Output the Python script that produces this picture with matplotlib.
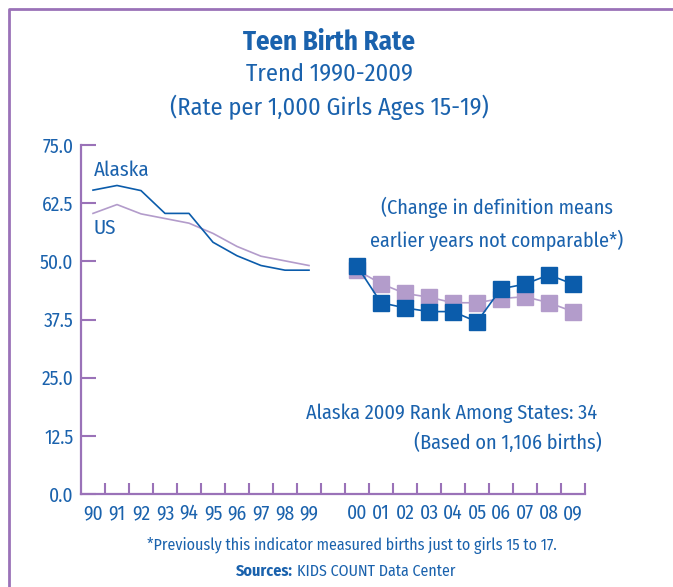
import matplotlib
matplotlib.use("Agg")
import matplotlib.pyplot as plt
from matplotlib.lines import Line2D

# Datos
anios_90 = ["90", "91", "92", "93", "94", "95", "96", "97", "98", "99"]
anios_00 = ["00", "01", "02", "03", "04", "05", "06", "07", "08", "09"]
alaska_90 = [65.3, 66.3, 65.2, 60.3, 60.3, 54.1, 51.2, 49.1, 48.1, 48.1]
us_90 = [60.3, 62.2, 60.2, 59.2, 58.2, 56.0, 53.2, 51.1, 50.1, 49.1]
alaska_00 = [49.0, 41.1, 40.0, 39.2, 39.2, 37.0, 44.1, 45.1, 47.1, 45.1]
us_00 = [48.1, 45.2, 43.1, 42.3, 41.1, 41.1, 42.0, 42.4, 41.1, 39.2]
y_ticks = [0.0, 12.5, 25.0, 37.5, 50.0, 62.5, 75.0]

AZUL = "#0b5cab"
AZUL_TEXTO = "#1a62ad"
LILA = "#b39ccb"
MORADO = "#9a72b8"

# fuente estrecha parecida a la del original, con respaldo
plt.rcParams['font.family'] = ['Fira Sans Condensed', 'Roboto Condensed', 'Roboto', 'DejaVu Sans']

fig = plt.figure(figsize=(6.73, 5.87), dpi=100)
ax = fig.add_axes([81 / 673, 93 / 587, 504 / 673, 349 / 587])

# posiciones: 90-99 -> 0..9, hueco, 00-09 -> 11..20
x_90 = list(range(len(anios_90)))
x_00 = [len(anios_90) + 1 + i for i in range(len(anios_00))]

ax.plot(x_90, us_90, color=LILA, lw=1.2)
ax.plot(x_90, alaska_90, color=AZUL, lw=1.2)
ax.plot(x_00, us_00, color=LILA, lw=1.2, marker='s', ms=11.5, mec=LILA, mfc=LILA)
ax.plot(x_00, alaska_00, color=AZUL, lw=1.2, marker='s', ms=11.5, mec=AZUL, mfc=AZUL)

n = len(x_90) + 1 + len(x_00)
ax.set_xlim(-0.5, n - 0.5)
ax.set_ylim(0, 75)

ax.set_xticks(x_90 + x_00)
ax.set_xticklabels(anios_90 + anios_00)
ax.set_xticks([i - 0.5 for i in range(1, n + 1)], minor=True)
ax.tick_params(axis='x', which='major', length=0, pad=7, labelsize=14, labelcolor=AZUL_TEXTO)
ax.tick_params(axis='x', which='minor', direction='in', length=8, width=1.5, color=MORADO)

ax.set_yticks(y_ticks)
ax.set_yticklabels([f"{v:.1f}" for v in y_ticks])
ax.tick_params(axis='y', direction='in', length=11, width=1.5, color=MORADO,
               pad=5.5, labelsize=14, labelcolor=AZUL_TEXTO)

for lado in ['top', 'right']:
    ax.spines[lado].set_visible(False)
for lado in ['left', 'bottom']:
    ax.spines[lado].set_color(MORADO)
    ax.spines[lado].set_linewidth(1.6)

# Etiquetas dentro del grafico
ax.text(0.04, 69.6, "Alaska", color=AZUL_TEXTO, fontsize=15, ha='left', va='center')
ax.text(0.04, 57.2, "US", color=AZUL_TEXTO, fontsize=15, ha='left', va='center')
ax.text(16.83, 61.5, "(Change in definition means", color=AZUL_TEXTO, fontsize=14.5,
        ha='center', va='center')
ax.text(16.83, 54.6, "earlier years not comparable*)", color=AZUL_TEXTO, fontsize=14.5,
        ha='center', va='center')
ax.text(21.0, 17.4, "Alaska 2009 Rank Among States: 34", color=AZUL_TEXTO, fontsize=14.6,
        ha='right', va='center')
ax.text(21.2, 11.0, "(Based on 1,106 births)", color=AZUL_TEXTO, fontsize=14.6,
        ha='right', va='center')

# Titulos
fig.text(329 / 673, 1 - 42 / 587, "Teen Birth Rate", color=AZUL_TEXTO, fontsize=19.3,
         fontweight='bold', ha='center', va='center')
fig.text(329 / 673, 1 - 74 / 587, "Trend 1990-2009", color=AZUL_TEXTO, fontsize=17.5,
         ha='center', va='center')
fig.text(329 / 673, 1 - 107 / 587, "(Rate per 1,000 Girls Ages 15-19)", color=AZUL_TEXTO,
         fontsize=17.5, ha='center', va='center')

# Notas al pie
fig.text(352 / 673, 1 - 545 / 587,
         "*Previously this indicator measured births just to girls 15 to 17.",
         color=AZUL_TEXTO, fontsize=11.5, ha='center', va='center')
fig.text(293 / 673, 1 - 571 / 587, "Sources:", color=AZUL_TEXTO, fontsize=11.5,
         fontweight='bold', ha='right', va='center')
fig.text(297 / 673, 1 - 571 / 587, "KIDS COUNT Data Center", color=AZUL_TEXTO, fontsize=11.5,
         ha='left', va='center')

# Marco morado (izquierda y arriba)
fig.add_artist(Line2D([9 / 673, 9 / 673, 1.0], [0.0, 1 - 9 / 587, 1 - 9 / 587],
                      transform=fig.transFigure, color=MORADO, lw=2.0))

fig.savefig("out.png", dpi=100)
